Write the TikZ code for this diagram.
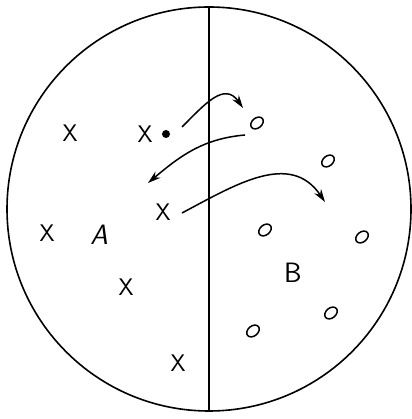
\documentclass[tikz,border=0pt]{standalone}
\usepackage{tikz}
\usetikzlibrary{arrows.meta}
\usetikzlibrary{shapes.geometric}

\tikzset{
    cross/.style={font=\sffamily\fontsize{24}{24}\selectfont, inner sep=0pt},
    zone/.style={font=\sffamily\fontsize{28}{28}\selectfont, inner sep=0pt},
    ring/.style={draw, ellipse, line width=1.5pt, inner sep=0pt,
        minimum width=14pt, minimum height=10pt, rotate=40},
    hop/.style={line width=1.5pt, -{Stealth[length=13pt,width=8pt]}},
}

\begin{document}
\begin{tikzpicture}[x=1pt,y=1pt]
    \useasboundingbox (0,0) rectangle (411,419);
    \node[circle, draw, line width=1.6pt, minimum size=404pt, inner sep=0pt] (disc) at (209,210) {};
    \draw[line width=1.3pt] (disc.north) -- (disc.south);
    % side A: crosses
    \foreach \px/\py [count=\i] in {70/286, 145/285, 47/186, 163/207, 126/132, 178/56} {
        \node[cross] (x\i) at (\px,\py) {X};
    }
    \node[circle, fill, inner sep=0pt, minimum size=8pt] (dot) at (166,285) {};
    \node[zone, font=\sffamily\itshape\fontsize{28}{28}\selectfont] (lblA) at (99,184) {A};
    % side B: small rings
    \foreach \px/\py [count=\i] in {257/296, 328/258, 265/189, 362/182, 331/106, 253/88} {
        \node[ring] (o\i) at (\px,\py) {};
    }
    \node[zone] (lblB) at (293,146) {B};
    % ends of the jumps
    \coordinate (jump1s) at (182,292);
    \coordinate (jump1e) at (243,311);
    \coordinate (jump2s) at (245,284);
    \coordinate (jump2e) at (148,236);
    \coordinate (jump3s) at (182,206);
    \coordinate (jump3e) at (325,217);
    \draw[hop] (jump1s) to[out=45, in=125, looseness=1.3] (jump1e);
    \draw[hop] (jump2s) to[out=185, in=40] (jump2e);
    \draw[hop] (jump3s) to[out=28, in=124, looseness=1.1] (jump3e);
\end{tikzpicture}
\end{document}
